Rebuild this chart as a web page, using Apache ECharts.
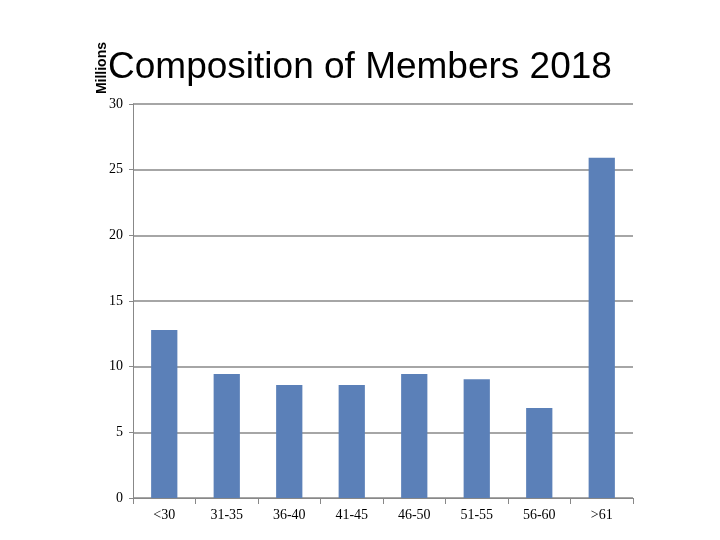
<!DOCTYPE html>
<html>
<head>
<meta charset="utf-8">
<script src="https://cdn.jsdelivr.net/npm/echarts@6/dist/echarts.min.js"></script>
<style>html,body{margin:0;padding:0;background:#fff}#main{width:720px;height:540px}</style>
</head>
<body>
<div id="main"></div>
<script>
var categories = ['<30', '31-35', '36-40', '41-45', '46-50', '51-55', '56-60', '>61'];
var members = [12.8, 9.45, 8.6, 8.6, 9.45, 9.05, 6.85, 25.9];

var myChart = echarts.init(document.getElementById('main'));
myChart.setOption({
    animation: false,
    title: {
        text: 'Composition of Members 2018',
        left: 'center',
        top: 44,
        textStyle: {fontFamily: 'Liberation Sans', fontSize: 37, fontWeight: 'normal', color: '#000'}
    },
    grid: {left: 133, right: 87, top: 104, bottom: 42},
    xAxis: {
        type: 'category',
        data: categories,
        axisLine: {lineStyle: {color: '#888'}},
        axisTick: {show: true, length: 6, lineStyle: {color: '#888'}},
        axisLabel: {color: '#000', fontFamily: 'Liberation Sans Narrow', fontSize: 14, margin: 10}
    },
    yAxis: {
        type: 'value',
        min: 0,
        max: 30,
        interval: 5,
        name: 'Millions',
        nameLocation: 'end',
        nameRotate: 90,
        nameGap: 0,
        nameTextStyle: {fontFamily: 'Liberation Sans', fontWeight: 'bold', fontSize: 14, color: '#000', align: 'right', verticalAlign: 'bottom', padding: [0, 0, 24, 0]},
        axisLine: {show: true, lineStyle: {color: '#888'}},
        axisTick: {show: true, length: 4, lineStyle: {color: '#888'}},
        axisLabel: {color: '#000', fontFamily: 'Liberation Sans Narrow', fontSize: 14, margin: 10},
        splitLine: {lineStyle: {color: '#888', width: 1.5}}
    },
    series: [{
        name: 'Members',
        type: 'bar',
        data: members,
        barWidth: '42%',
        itemStyle: {color: '#5b80b8'}
    }]
});
</script>
</body>
</html>
